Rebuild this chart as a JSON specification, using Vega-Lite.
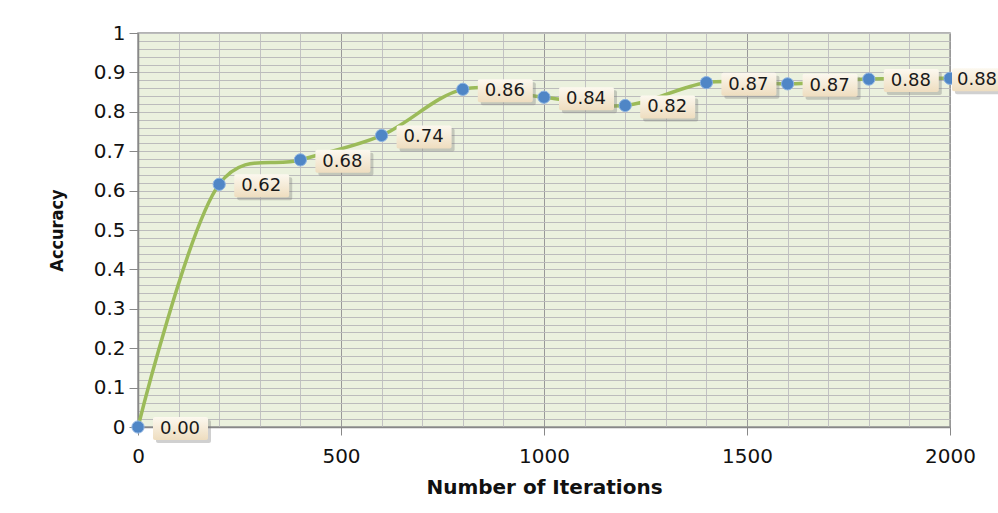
{
  "$schema": "https://vega.github.io/schema/vega-lite/v6.json",
  "autosize": {"type": "none"},
  "width": 812,
  "height": 394,
  "padding": {"left": 138, "top": 33, "right": 48, "bottom": 86},
  "background": "white",
  "config": {
    "view": {"fill": "#EBF1DE", "stroke": "#9a9a9a", "strokeWidth": 1.5}
  },
  "data": {
    "values": [
      {"iter": 0, "acc": 0.0, "label": "0.00"},
      {"iter": 200, "acc": 0.616, "label": "0.62"},
      {"iter": 400, "acc": 0.678, "label": "0.68"},
      {"iter": 600, "acc": 0.74, "label": "0.74"},
      {"iter": 800, "acc": 0.857, "label": "0.86"},
      {"iter": 1000, "acc": 0.837, "label": "0.84"},
      {"iter": 1200, "acc": 0.816, "label": "0.82"},
      {"iter": 1400, "acc": 0.874, "label": "0.87"},
      {"iter": 1600, "acc": 0.871, "label": "0.87"},
      {"iter": 1800, "acc": 0.883, "label": "0.88"},
      {"iter": 2000, "acc": 0.885, "label": "0.88"}
    ]
  },
  "encoding": {
    "x": {
      "field": "iter",
      "type": "quantitative",
      "scale": {"domain": [0, 2000], "nice": false, "zero": false},
      "axis": {
        "values": [0,100,200,300,400,500,600,700,800,900,1000,1100,1200,1300,1400,1500,1600,1700,1800,1900,2000],
        "labelExpr": "datum.value % 500 === 0 ? '' + datum.value : ''",
        "labelFont": "DejaVu Sans",
        "labelFontSize": 20,
        "labelColor": "#111",
        "labelPadding": 11,
        "labelFlush": false,
        "labelOverlap": false,
        "tickSize": 8,
        "tickColor": "#888",
        "tickOpacity": {"condition": {"test": "datum.value % 500 === 0", "value": 1}, "value": 0},
        "domainColor": "#888",
        "domainWidth": 1.5,
        "grid": true,
        "gridColor": {"condition": {"test": "datum.value % 500 === 0", "value": "#999999"}, "value": "#c2c2c2"},
        "gridWidth": 1,
        "title": "Number of Iterations",
        "titleFont": "DejaVu Sans",
        "titleFontSize": 20,
        "titleFontWeight": "bold",
        "titleColor": "#111",
        "titleX": 406,
        "titleY": 60,
        "titleBaseline": "middle",
        "titleAlign": "center"
      }
    },
    "y": {
      "field": "acc",
      "type": "quantitative",
      "scale": {"domain": [0, 1], "nice": false},
      "axis": {
        "values": [0,0.02,0.04,0.06,0.08,0.1,0.12,0.14,0.16,0.18,0.2,0.22,0.24,0.26,0.28,0.3,0.32,0.34,0.36,0.38,0.4,0.42,0.44,0.46,0.48,0.5,0.52,0.54,0.56,0.58,0.6,0.62,0.64,0.66,0.68,0.7,0.72,0.74,0.76,0.78,0.8,0.82,0.84,0.86,0.88,0.9,0.92,0.94,0.96,0.98,1],
        "labelExpr": "round(datum.value*50) % 5 == 0 ? '' + round(datum.value*10)/10 : ''",
        "labelFont": "DejaVu Sans",
        "labelFontSize": 20,
        "labelColor": "#111",
        "labelPadding": 4,
        "labelFlush": false,
        "labelOverlap": false,
        "tickSize": 9,
        "tickColor": "#888",
        "tickOpacity": {"condition": {"test": "round(datum.value*50) % 5 == 0", "value": 1}, "value": 0},
        "domainColor": "#888",
        "domainWidth": 1.5,
        "grid": true,
        "gridColor": "#bcbcbc",
        "gridWidth": 1,
        "title": "Accuracy",
        "titleFont": "Liberation Sans Narrow, DejaVu Sans Condensed",
        "titleFontSize": 18,
        "titleFontWeight": "bold",
        "titleColor": "#111",
        "titleAngle": 270,
        "titleX": -81,
        "titleY": 197,
        "titleBaseline": "middle",
        "titleAlign": "center"
      }
    }
  },
  "layer": [
    {
      "mark": {"type": "line", "color": "#9BBB59", "strokeWidth": 3.5, "interpolate": "catmull-rom", "tension": 0.2}
    },
    {
      "mark": {"type": "point", "filled": true, "shape": "circle", "size": 150, "color": "#4F86C6", "opacity": 1, "stroke": "#8DB3E2", "strokeWidth": 1}
    },
    {
      "transform": [{"filter": "datum.iter < 2000"}],
      "layer": [
        {
          "mark": {"type": "rect", "fill": "#777777", "opacity": 0.35, "xOffset": 18, "x2Offset": 73, "yOffset": -7, "y2Offset": 16, "cornerRadius": 2},
          "encoding": {"x2": {"field": "iter"}, "y2": {"field": "acc"}}
        },
        {
          "mark": {
            "type": "rect",
            "xOffset": 15, "x2Offset": 70, "yOffset": -10, "y2Offset": 13,
            "cornerRadius": 2,
            "fill": {"gradient": "linear", "x1": 0, "y1": 0, "x2": 0, "y2": 1,
              "stops": [{"offset": 0, "color": "#FCF8EF"}, {"offset": 1, "color": "#EEDDBF"}]}
          },
          "encoding": {"x2": {"field": "iter"}, "y2": {"field": "acc"}}
        },
        {
          "mark": {"type": "text", "dx": 42, "dy": 2, "align": "center", "baseline": "middle", "font": "DejaVu Sans", "fontSize": 18, "color": "#1a1a1a"},
          "encoding": {"text": {"field": "label"}}
        }
      ]
    },
    {
      "transform": [{"filter": "datum.iter >= 2000"}],
      "layer": [
        {
          "mark": {"type": "rect", "fill": "#777777", "opacity": 0.35, "xOffset": 5, "x2Offset": 60, "yOffset": -7, "y2Offset": 16, "cornerRadius": 2},
          "encoding": {"x2": {"field": "iter"}, "y2": {"field": "acc"}}
        },
        {
          "mark": {
            "type": "rect",
            "xOffset": 2, "x2Offset": 57, "yOffset": -10, "y2Offset": 13,
            "cornerRadius": 2,
            "fill": {"gradient": "linear", "x1": 0, "y1": 0, "x2": 0, "y2": 1,
              "stops": [{"offset": 0, "color": "#FCF8EF"}, {"offset": 1, "color": "#EEDDBF"}]}
          },
          "encoding": {"x2": {"field": "iter"}, "y2": {"field": "acc"}}
        },
        {
          "mark": {"type": "text", "dx": 27, "dy": 2, "align": "center", "baseline": "middle", "font": "DejaVu Sans", "fontSize": 18, "color": "#1a1a1a"},
          "encoding": {"text": {"field": "label"}}
        }
      ]
    }
  ]
}
